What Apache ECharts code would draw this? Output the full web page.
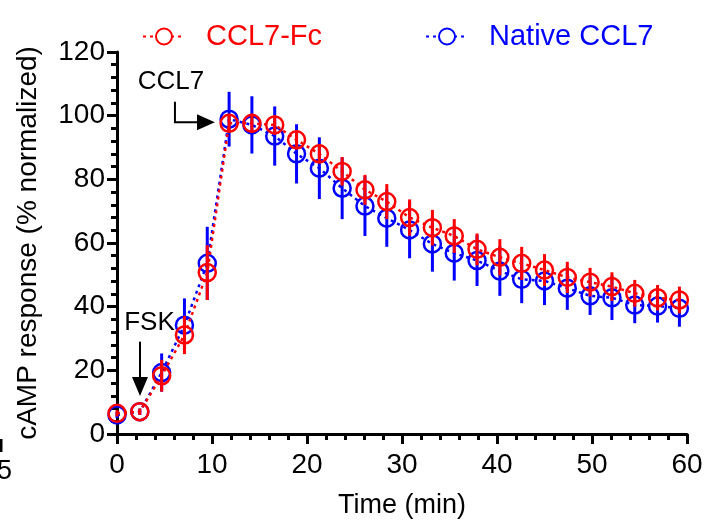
<!DOCTYPE html>
<html><head><meta charset="utf-8">
<script src="https://cdn.jsdelivr.net/npm/echarts@6/dist/echarts.min.js"></script>
<style>html,body{margin:0;padding:0;background:#fff}#c{width:714px;height:527px}</style>
</head><body><div id="c"></div>
<script>
// ---- data ----
const times = [0, 2.4, 4.7, 7.1, 9.5, 11.8, 14.2, 16.6, 18.9, 21.3, 23.7, 26.1, 28.4, 30.8, 33.2, 35.5, 37.9, 40.3, 42.6, 45.0, 47.4, 49.8, 52.1, 54.5, 56.9, 59.2];
const fcMean = [6.5, 7.0, 18.3, 31.1, 50.7, 97.6, 97.6, 97.1, 92.4, 88.0, 82.5, 76.7, 73.0, 68.0, 64.8, 62.2, 58.0, 55.5, 53.6, 51.5, 49.2, 47.7, 46.3, 44.2, 42.8, 42.1];
const fcSd = [1, 1, 5, 6, 8.6, 3, 3, 3, 3, 3, 4.5, 4.7, 5.5, 5.7, 5.6, 5.3, 5, 5.7, 5.2, 5, 4.9, 4.5, 4.5, 4.2, 4, 4.2];
const nativeMean = [6.0, 7.0, 19.3, 34.2, 53.6, 98.9, 97.1, 93.6, 88.0, 83.5, 77.2, 71.6, 67.8, 64.1, 59.7, 56.8, 54.5, 51.2, 48.6, 48.1, 45.8, 43.4, 42.8, 40.5, 40.2, 39.5];
const nativeSd = [1, 1, 6, 8.4, 11.5, 8.6, 9, 9.3, 9.3, 9.7, 9.7, 9.4, 9, 8.9, 8.7, 8.6, 8, 7.8, 7.5, 7.6, 6.8, 6, 7, 5.7, 5.2, 5.8];
const seriesNames = ['CCL7-Fc', 'Native CCL7'];
const xTitle = 'Time (min)';
const yTitle = 'cAMP response (% normalized)';
const annotations = [{text: 'FSK', t: 3.42, v: 34.9}, {text: 'CCL7', t: 5.68, v: 110.6}];

const RED = '#ff0000', BLUE = '#0000ff';
const FONT = '"Liberation Sans", Arial, sans-serif';

const chart = echarts.init(document.getElementById('c'), null, {renderer: 'canvas'});

function errBar(name, color, means, sds, z) {
  return {
    type: 'custom', name: name, silent: true, z: z,
    data: times.map((t, i) => [t, means[i] - sds[i], means[i] + sds[i]]),
    encode: {x: 0, y: [1, 2]},
    renderItem: function (params, api) {
      const p1 = api.coord([api.value(0), api.value(1)]);
      const p2 = api.coord([api.value(0), api.value(2)]);
      return {type: 'line', shape: {x1: p1[0], y1: p1[1], x2: p2[0], y2: p2[1]},
              style: {stroke: color, lineWidth: 3}};
    }
  };
}
function lineSeries(name, color, means, z) {
  return {
    type: 'line', name: name, z: z,
    data: times.map((t, i) => [t, means[i]]),
    symbol: 'circle', symbolSize: 17, showSymbol: true,
    itemStyle: {color: 'rgba(0,0,0,0)', borderColor: color, borderWidth: 2.5},
    lineStyle: {color: color, width: 2.5, type: [3, 4]},
    emphasis: {disabled: true}, animation: false
  };
}

const axisCommon = {
  axisLine: {show: true, onZero: false, lineStyle: {color: '#000', width: 3}},
  axisTick: {show: true, length: 10, lineStyle: {color: '#000', width: 3}},
  minorTick: {show: true, splitNumber: 5, length: 6, lineStyle: {color: '#000', width: 3}},
  splitLine: {show: false},
  axisLabel: {color: '#000', fontSize: 28, fontFamily: FONT},
  nameTextStyle: {color: '#000', fontSize: 28, fontFamily: FONT}
};

chart.setOption({
  animation: false,
  backgroundColor: '#fff',
  grid: {left: 117, right: 27, top: 52, bottom: 93, containLabel: false},
  xAxis: Object.assign({}, axisCommon, {
    type: 'value', min: 0, max: 60, interval: 10,
    name: xTitle, nameLocation: 'middle', nameGap: 58,
    nameTextStyle: {color: '#000', fontSize: 27, fontFamily: FONT},
    axisLabel: Object.assign({}, axisCommon.axisLabel, {margin: 17})
  }),
  yAxis: Object.assign({}, axisCommon, {
    type: 'value', min: 0, max: 120, interval: 20,
    name: yTitle, nameLocation: 'middle', nameGap: 75,
    axisLabel: Object.assign({}, axisCommon.axisLabel, {margin: 12})
  }),
  legend: {
    left: 137, top: 17, itemWidth: 42, itemHeight: 20, itemGap: 103,
    selectedMode: false,
    data: [
      {name: seriesNames[0], itemStyle: {color: '#fff'}, textStyle: {color: RED}},
      {name: seriesNames[1], itemStyle: {color: '#fff'}, textStyle: {color: BLUE}}
    ],
    textStyle: {fontSize: 29, fontFamily: FONT, padding: [0, 0, 0, 16]}
  },
  series: [
    errBar('nativeErr', BLUE, nativeMean, nativeSd, 2),
    lineSeries(seriesNames[1], BLUE, nativeMean, 3),
    errBar('fcErr', RED, fcMean, fcSd, 4),
    lineSeries(seriesNames[0], RED, fcMean, 5)
  ]
});

// ---- annotations placed through the chart's scales ----
function px(t, v) { return chart.convertToPixel({gridIndex: 0}, [t, v]); }
const fskText = px(annotations[0].t, annotations[0].v);
const ccl7Text = px(annotations[1].t, annotations[1].v);
const fskTop = px(2.42, 29), fskTriTop = px(2.42, 17.9), fskTip = px(2.42, 11.9);
const cTop = px(6.1, 104.4), cCorner = px(6.1, 97.9), cEnd = px(8.42, 97.9), cTip = px(10.3, 97.9);

chart.setOption({
  graphic: [
    {type: 'text', x: fskText[0], y: fskText[1], style: {text: annotations[0].text, fill: '#000', font: '26px ' + FONT, textAlign: 'center', textVerticalAlign: 'middle'}},
    {type: 'line', shape: {x1: fskTop[0], y1: fskTop[1], x2: fskTriTop[0], y2: fskTriTop[1]}, style: {stroke: '#000', lineWidth: 2}},
    {type: 'polygon', shape: {points: [[fskTriTop[0] - 8, fskTriTop[1]], [fskTriTop[0] + 8, fskTriTop[1]], [fskTip[0], fskTip[1]]]}, style: {fill: '#000'}},
    {type: 'text', x: ccl7Text[0], y: ccl7Text[1], style: {text: annotations[1].text, fill: '#000', font: '26px ' + FONT, textAlign: 'center', textVerticalAlign: 'middle'}},
    {type: 'polyline', shape: {points: [cTop, cCorner, cEnd]}, style: {stroke: '#000', lineWidth: 2, fill: null}},
    {type: 'polygon', shape: {points: [[cEnd[0], cEnd[1] - 8], [cEnd[0], cEnd[1] + 8], [cTip[0], cTip[1]]]}, style: {fill: '#000'}},
    // cropped fragment of a neighbouring panel at the left edge
    {type: 'text', x: 12, y: 472, style: {text: '5', fill: '#000', font: '27px ' + FONT, textAlign: 'right', textVerticalAlign: 'middle'}},
    {type: 'rect', shape: {x: 0, y: 439, width: 2.5, height: 13}, style: {fill: '#000'}}
  ]
});
</script>
</body></html>
